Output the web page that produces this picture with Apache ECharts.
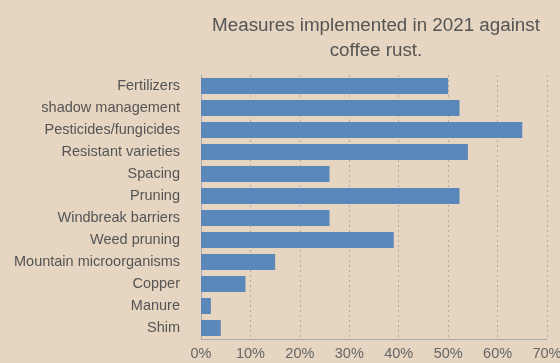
<!DOCTYPE html>
<html>
<head>
<meta charset="utf-8">
<script src="https://cdn.jsdelivr.net/npm/echarts@6/dist/echarts.min.js"></script>
<style>
  html, body { margin: 0; padding: 0; background: #e5d5c1; }
  #chart { width: 560px; height: 363px; }
</style>
</head>
<body>
<div id="chart"></div>
<script>
// Measures against coffee rust, share of farms (%)
const measures = [
  'Fertilizers', 'shadow management', 'Pesticides/fungicides', 'Resistant varieties',
  'Spacing', 'Pruning', 'Windbreak barriers', 'Weed pruning',
  'Mountain microorganisms', 'Copper', 'Manure', 'Shim'
];
const shares = [50, 52.3, 65, 54, 26, 52.3, 26, 39, 15, 9, 2, 4];
const xTicks = [0, 10, 20, 30, 40, 50, 60, 70];

const FONT = 'Liberation Sans, Arial, sans-serif';

const chart = echarts.init(document.getElementById('chart'), null, { renderer: 'canvas' });
chart.setOption({
  backgroundColor: '#e5d5c1',
  animation: false,
  title: {
    text: 'Measures implemented in 2021 against\ncoffee rust.',
    left: 371,
    top: 8,
    textAlign: 'center',
    textStyle: {
      fontFamily: FONT,
      fontSize: 18.8,
      fontWeight: 'normal',
      color: '#555555',
      lineHeight: 25
    }
  },
  grid: {
    left: 201, right: 13, top: 75, bottom: 24,
    containLabel: false,
    outerBoundsMode: 'none'
  },
  xAxis: {
    type: 'value',
    min: xTicks[0],
    max: xTicks[xTicks.length - 1],
    interval: 10,
    axisLine: { show: true, lineStyle: { color: '#aaaaaa', width: 1 } },
    axisTick: { show: false },
    axisLabel: {
      formatter: v => v + '%',
      color: '#666666',
      fontSize: 14.5,
      margin: 7,
      fontFamily: FONT
    },
    splitLine: { show: true, lineStyle: { color: '#b5aca0', type: [2, 3], width: 1 } }
  },
  yAxis: {
    type: 'category',
    data: measures,
    inverse: true,
    axisLine: { show: true, lineStyle: { color: '#aaaaaa', width: 1 } },
    axisTick: { show: false },
    axisLabel: {
      color: '#555555',
      fontSize: 14.5,
      margin: 21,
      fontFamily: FONT
    }
  },
  series: [{
    type: 'bar',
    data: shares,
    barWidth: 16,
    itemStyle: { color: '#5c87ba' }
  }]
});
</script>
</body>
</html>
